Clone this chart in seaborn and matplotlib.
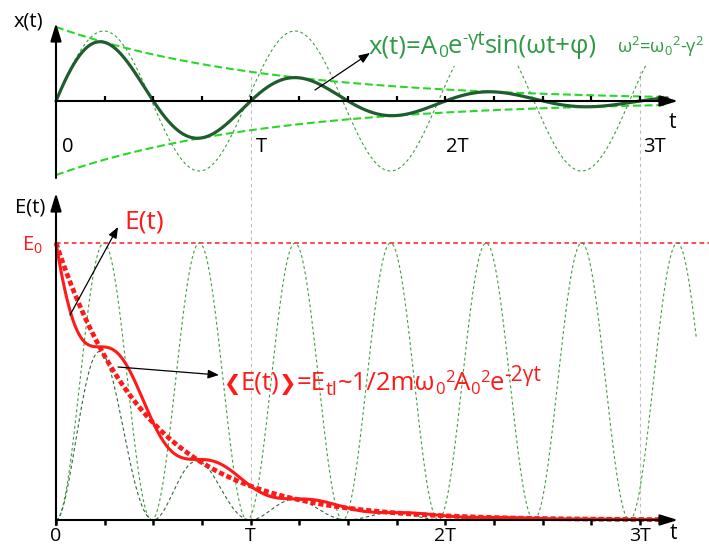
import numpy as np
import pandas as pd
import matplotlib
matplotlib.use("Agg")
import matplotlib.pyplot as plt
from matplotlib.patches import Rectangle
import seaborn as sns

# ---------------- values ----------------
period = 1.0            # T (time unit)
period_free = 0.982     # T0 of the undamped oscillation (slightly shorter)
gamma_x = 0.93          # damping rate (per T) seen in the x(t) envelope
gamma_E = 1.05          # damping rate (per T) seen in the energy curves
amp0 = 1.0              # A0 (envelope start)
amp_free = 0.946        # amplitude of the undamped sine relative to A0
energy0 = 1.0           # E0
t_end_damped = 3.14     # where damped curves stop (in T)
t_end_free_top = 3.03
t_end_free_bottom = 3.29
quarter_ticks = [0.25, 0.5, 0.75, 1.0, 1.25, 1.5, 1.75, 2.0, 2.25, 2.5, 2.75, 3.0]
bottom_ticks = [0.0] + quarter_ticks
tick_pos = [0.0, 1.0, 2.0, 3.0]
tick_labels = ["0", "T", "2T", "3T"]
gray_marks = [1.0, 3.0]

# ---------------- style ----------------
sns.set_theme(style="white")
plt.rcParams["font.family"] = ["Open Sans", "DejaVu Sans"]
plt.rcParams["mathtext.fontset"] = "custom"
plt.rcParams["mathtext.rm"] = "Open Sans"
plt.rcParams["mathtext.it"] = "Open Sans"
plt.rcParams["mathtext.sf"] = "Open Sans"
plt.rcParams["mathtext.bf"] = "Open Sans:bold"
plt.rcParams["mathtext.default"] = "regular"

W, H = 709, 544
fig = plt.figure(figsize=(W / 100, H / 100), dpi=100)
fig.patch.set_facecolor("white")

X0, TPX = 56.0, 194.67
xlim = (-X0 / TPX, (W - X0) / TPX)

# top panel: image rows 0..190, baseline at row 101, A0 = 74 px
ax1 = fig.add_axes([0, 1 - 190 / H, 1, 190 / H])
# bottom panel: image rows 190..544, baseline at row 520, E0 = 277 px
ax2 = fig.add_axes([0, 0, 1, 354 / H])
ax1.set_zorder(1)
for ax in (ax1, ax2):
    ax.set_axis_off()
    ax.patch.set_visible(False)

omega = 2 * np.pi / period
omega0 = 2 * np.pi / period_free
g_over_w = gamma_E / omega

t_d = np.linspace(0, t_end_damped, 900)
t_ft = np.linspace(0, t_end_free_top, 900)
t_fb = np.linspace(0, t_end_free_bottom, 1200)

top = pd.DataFrame({
    "t": t_d,
    "x": amp0 * np.exp(-gamma_x * t_d) * np.sin(omega * t_d),
    "env_up": amp0 * np.exp(-gamma_x * t_d),
    "env_dn": -amp0 * np.exp(-gamma_x * t_d),
})
free_top = pd.DataFrame({"t": t_ft, "x": amp_free * np.sin(omega0 * t_ft)})
free_bot = pd.DataFrame({"t": t_fb, "e": energy0 * np.sin(omega0 * t_fb) ** 2})
bot = pd.DataFrame({
    "t": t_d,
    "pe": energy0 * np.exp(-2 * gamma_E * t_d) * np.sin(omega * t_d) ** 2,
    "E": energy0 * np.exp(-2 * gamma_E * t_d) * (1 + 2 * g_over_w ** 2 * np.sin(omega * t_d) ** 2
                                                  - g_over_w * np.sin(2 * omega * t_d)),
    "Eavg": energy0 * np.exp(-2 * gamma_E * t_d),
})

light_green = "#3f9f3f"
bright_green = "#2ad62a"
dark_green = "#1f5c2e"
formula_green = "#2f9a45"
red = "#ff1a1a"

# ---------------- top panel ----------------
sns.lineplot(data=free_top, x="t", y="x", ax=ax1, color=light_green, lw=0.8,
             linestyle=(0, (2.6, 2.4)), estimator=None, sort=False, zorder=1)
for col in ("env_up", "env_dn"):
    sns.lineplot(data=top, x="t", y=col, ax=ax1, color=bright_green, lw=1.5,
                 linestyle=(0, (3.8, 1.8)), estimator=None, sort=False, zorder=2)
sns.lineplot(data=top, x="t", y="x", ax=ax1, color=dark_green, lw=2.3,
             estimator=None, sort=False, zorder=3)

axis_kw = dict(arrowstyle="-|>,head_length=0.72,head_width=0.22", color="black",
               lw=1.5, mutation_scale=15, shrinkA=0, shrinkB=0)
ax1.annotate("", xy=(0, 78 / 74), xytext=(0, -77 / 74), arrowprops=axis_kw, zorder=4)
ax1.annotate("", xy=((678 - X0) / TPX, 0), xytext=(0, 0), arrowprops=axis_kw, zorder=4)
for tk in quarter_ticks:
    ax1.plot([tk, tk], [0, 5.5 / 74], color="black", lw=1.6, zorder=4,
             solid_capstyle="butt")

# white boxes behind the formulas (hide the undamped sine there)
ax1.add_patch(Rectangle((371 / W, 1 - 66 / H), (612 - 371) / W, 44 / H,
                        transform=fig.transFigure, facecolor="white",
                        edgecolor="none", zorder=5, clip_on=False))
ax1.add_patch(Rectangle((615 / W, 1 - 64 / H), (W - 615) / W, 36 / H,
                        transform=fig.transFigure, facecolor="white",
                        edgecolor="none", zorder=5, clip_on=False))

# ---------------- bottom panel ----------------
for gm in gray_marks:
    ax2.plot([gm, gm], [0, (520 - 71) / 277], color="#bdbdbd", lw=0.8,
             linestyle=(0, (3, 3)), clip_on=False, zorder=0)
ax2.plot([0, xlim[1]], [energy0, energy0], color=red, lw=1.1,
         linestyle=(0, (3.0, 2.2)), zorder=1)
sns.lineplot(data=free_bot, x="t", y="e", ax=ax2, color=light_green, lw=0.8,
             linestyle=(0, (2.6, 2.4)), estimator=None, sort=False, zorder=1)
sns.lineplot(data=bot, x="t", y="pe", ax=ax2, color="#2d6b3c", lw=0.8,
             linestyle=(0, (3.0, 2.4)), estimator=None, sort=False, zorder=2)
sns.lineplot(data=bot, x="t", y="E", ax=ax2, color=red, lw=2.2,
             estimator=None, sort=False, zorder=3)
sns.lineplot(data=bot, x="t", y="Eavg", ax=ax2, color=red, lw=3.4,
             linestyle=(0, (1.1, 0.6)), estimator=None, sort=False, zorder=3)

ax2.annotate("", xy=(0, (520 - 193) / 277), xytext=(0, -5 / 277), arrowprops=axis_kw, zorder=4)
ax2.annotate("", xy=((678 - X0) / TPX, 0), xytext=(0, 0), arrowprops=axis_kw, zorder=4)
for tk in bottom_ticks:
    ax2.plot([tk, tk], [0, -5 / 277], color="black", lw=1.8, zorder=4,
             solid_capstyle="butt")

for ax in (ax1, ax2):
    ax.set_xlim(*xlim)
ax1.set_ylim(-89 / 74, 101 / 74)
ax2.set_ylim(-24 / 277, 330 / 277)


# ---------------- text ----------------
def put(x, y, s, **kw):
    return fig.text(x / W, 1 - y / H, s, **kw)


put(14, 26, "x(t)", fontsize=14.5, color="black", va="baseline")
put(669, 128, "t", fontsize=15, color="black", va="baseline")
top_label_left = [62, 256, 446, 643]
for lx, lab in zip(top_label_left, tick_labels):
    put(lx, 152, lab, fontsize=14.5, color="black", va="baseline")

put(15, 212, "E(t)", fontsize=14.5, color="black", va="baseline")
put(22, 251, r"E$_0$", fontsize=14.5, color=red, va="baseline")
put(124, 228, "E(t)", fontsize=19, color=red, va="baseline")
for lx, lab in zip(tick_pos, tick_labels):
    put(X0 + lx * TPX, 541, lab, fontsize=14, color="black", va="baseline", ha="center")
put(670, 539, "t", fontsize=15, color="black", va="baseline")

put(617, 53, r"ω$^2$=ω$_0{}^2$-γ$^2$", fontsize=13.2, color=formula_green,
    va="baseline")

fig.canvas.draw()
renderer = fig.canvas.get_renderer()


def chain(x, y, pieces, color):
    cur = x
    for s, size, dy, fam, weight, gap in pieces:
        tx = put(cur + gap, y + dy, s, fontsize=size, color=color, va="baseline",
                 family=fam, fontweight=weight)
        cur = tx.get_window_extent(renderer).x1


OS, DV = "Open Sans", "DejaVu Sans"
green_pieces = [
    ("x(t)=A", 18.5, 0, OS, "normal", 0),
    ("0", 12.5, 4, OS, "normal", 0),
    ("e", 18.5, 0, OS, "normal", 0),
    ("-", 11, -11, OS, "normal", 0),
    ("γt", 14.5, -8, OS, "normal", 0),
    ("sin(ωt+φ)", 18.5, 0, OS, "normal", 0),
]
chain(369, 53, green_pieces, formula_green)

red_pieces = [
    ("❮", 15, 0, DV, "bold", 0),
    ("E(t)", 18.5, 0, OS, "normal", 0),
    ("❯", 15, 0, DV, "bold", 0),
    ("=E", 18.5, 0, OS, "normal", 0),
    ("tl", 14, 5, OS, "normal", 0),
    ("~1/2mω", 18.5, 0, OS, "normal", 0),
    ("0", 12, 4, OS, "normal", 0),
    ("2", 12, -8, OS, "normal", 0),
    ("A", 18.5, 0, OS, "normal", 0),
    ("0", 12, 4, OS, "normal", 0),
    ("2", 12, -8, OS, "normal", 0),
    ("e", 18.5, 0, OS, "normal", 0),
    ("-2γt", 15, -9, OS, "normal", 0),
]
chain(223, 390, red_pieces, red)

# pointer arrows
ptr = dict(arrowstyle="-|>,head_length=0.55,head_width=0.22", color="black",
           lw=0.9, mutation_scale=12, shrinkA=0, shrinkB=0)
fig_px = lambda x, y: (x, H - y)
ax1.annotate("", xy=fig_px(370, 53), xytext=fig_px(315, 90), xycoords="figure pixels",
             textcoords="figure pixels", arrowprops=ptr, zorder=6)
ax2.annotate("", xy=fig_px(118, 227), xytext=fig_px(70, 315), xycoords="figure pixels",
             textcoords="figure pixels", arrowprops=ptr)
ax2.annotate("", xy=fig_px(219, 375), xytext=fig_px(118, 367), xycoords="figure pixels",
             textcoords="figure pixels", arrowprops=ptr)

fig.savefig("out.png", dpi=100, facecolor="white")
